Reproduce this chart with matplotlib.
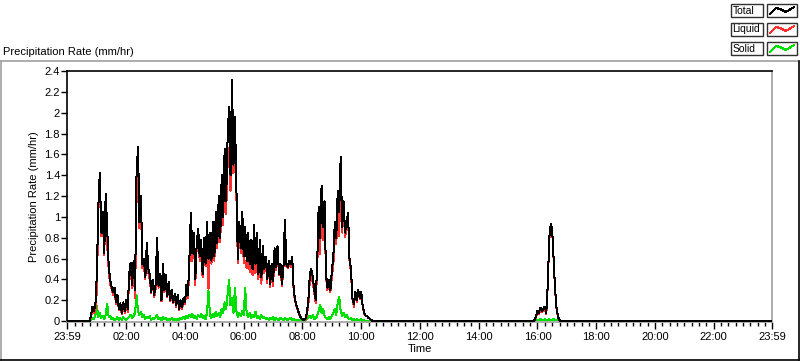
# -*- coding: utf-8 -*-

import numpy as np
import matplotlib

matplotlib.use("Agg")
from matplotlib import pyplot as plt
from matplotlib.lines import Line2D
from matplotlib.patches import Rectangle

# morning rain, 3-minute samples starting at 00:45 (mm/hr)
am_start = 0.75
total_am = [
    0.00, 0.05, 0.14, 0.10, 0.16, 0.45, 1.10, 1.42, 0.85, 1.05,
    0.65, 1.22, 0.90, 0.55, 0.40, 0.33, 0.28, 0.32, 0.18, 0.25,
    0.12, 0.17, 0.08, 0.18, 0.10, 0.20, 0.12, 0.45, 0.56, 0.35,
    0.58, 0.30, 1.40, 1.67, 0.95, 1.20, 0.55, 0.60, 0.42, 0.75,
    0.50, 0.45, 0.28, 0.40, 0.25, 0.35, 0.80, 0.34, 0.45, 0.20,
    0.55, 0.30, 0.44, 0.24, 0.38, 0.20, 0.30, 0.18, 0.26, 0.15,
    0.25, 0.12, 0.20, 0.14, 0.22, 0.18, 0.35, 0.25, 0.60, 1.04,
    0.65, 0.85, 0.40, 0.75, 0.88, 0.62, 0.78, 0.45, 0.80, 0.55,
    0.95, 0.60, 0.85, 0.58, 0.95, 0.62, 1.05, 0.75, 1.20, 0.80,
    1.40, 1.00, 1.65, 1.15, 1.75, 2.06, 1.40, 2.31, 1.50, 1.96,
    1.30, 0.60, 0.95, 0.70, 1.05, 0.62, 0.90, 0.58, 0.85, 0.55,
    0.78, 0.50, 0.92, 0.55, 0.85, 0.45, 0.78, 0.42, 0.72, 0.50,
    0.62, 0.40, 0.58, 0.36, 0.55, 0.38, 0.70, 0.52, 0.72, 0.45,
    0.55, 0.36, 0.50, 0.97, 0.55, 0.52, 0.58, 0.55, 0.62, 0.30,
    0.20, 0.15, 0.10, 0.06, 0.03, 0.02, 0.01, 0.02, 0.08, 0.20,
    0.45, 0.50, 0.42, 0.30, 0.20, 0.55, 1.10, 0.80, 1.30, 0.90,
    1.15, 0.45, 0.32, 0.40, 0.30, 0.48, 0.62, 0.95, 0.80, 1.25,
    1.05, 1.58, 0.90, 1.15, 0.85, 0.95, 1.04, 0.60, 0.50, 0.22,
    0.16, 0.28, 0.20, 0.30, 0.22, 0.28, 0.14, 0.08, 0.05, 0.05,
    0.03, 0.02, 0.01, 0.00, 0.00, 0.00, 0.00, 0.00, 0.00, 0.00, 0.00,
]
solid_am = [
    0.00, 0.01, 0.03, 0.02, 0.06, 0.15, 0.04, 0.08, 0.03, 0.05,
    0.02, 0.06, 0.17, 0.04, 0.05, 0.02, 0.03, 0.01, 0.02, 0.04,
    0.01, 0.03, 0.01, 0.04, 0.02, 0.01, 0.03, 0.04, 0.06, 0.03,
    0.05, 0.08, 0.25, 0.10, 0.06, 0.09, 0.04, 0.06, 0.02, 0.04,
    0.03, 0.05, 0.01, 0.03, 0.02, 0.04, 0.06, 0.02, 0.03, 0.01,
    0.04, 0.02, 0.03, 0.01, 0.02, 0.01, 0.03, 0.01, 0.02, 0.01,
    0.02, 0.01, 0.03, 0.02, 0.04, 0.02, 0.05, 0.03, 0.06, 0.04,
    0.07, 0.03, 0.05, 0.02, 0.06, 0.04, 0.07, 0.03, 0.05, 0.02,
    0.08, 0.29, 0.06, 0.03, 0.07, 0.04, 0.09, 0.05, 0.08, 0.04,
    0.12, 0.08, 0.18, 0.12, 0.25, 0.40, 0.15, 0.22, 0.08, 0.32,
    0.10, 0.04, 0.08, 0.05, 0.10, 0.06, 0.32, 0.07, 0.04, 0.08,
    0.03, 0.06, 0.04, 0.09, 0.03, 0.05, 0.02, 0.06, 0.03, 0.04,
    0.02, 0.03, 0.01, 0.03, 0.02, 0.04, 0.01, 0.03, 0.02, 0.01,
    0.03, 0.02, 0.01, 0.03, 0.02, 0.01, 0.02, 0.03, 0.01, 0.02,
    0.01, 0.01, 0.00, 0.01, 0.00, 0.00, 0.00, 0.01, 0.02, 0.04,
    0.05, 0.03, 0.06, 0.02, 0.03, 0.05, 0.10, 0.16, 0.08, 0.12,
    0.05, 0.03, 0.02, 0.04, 0.02, 0.05, 0.08, 0.12, 0.06, 0.18,
    0.23, 0.10, 0.05, 0.08, 0.04, 0.06, 0.03, 0.02, 0.03, 0.01,
    0.02, 0.01, 0.02, 0.01, 0.01, 0.02, 0.00, 0.01, 0.00, 0.00,
    0.00, 0.00, 0.00, 0.00, 0.00, 0.00, 0.00, 0.00, 0.00, 0.00, 0.00,
]

# afternoon shower, 3-minute samples starting at 15:45
pm_start = 15.75
total_pm = [
    0.00, 0.00, 0.00, 0.01, 0.05, 0.10, 0.08, 0.13, 0.10, 0.12, 0.14,
    0.08, 0.35, 0.80, 0.93, 0.88, 0.60, 0.30, 0.12, 0.04, 0.01, 0.00,
]
solid_pm = [
    0.00, 0.00, 0.00, 0.00, 0.01, 0.01, 0.01, 0.02, 0.01, 0.01, 0.02,
    0.01, 0.01, 0.02, 0.01, 0.01, 0.02, 0.01, 0.01, 0.01, 0.00, 0.00,
]
step = 0.05  # 3 minutes in hours

day_start = -1.0 / 60  # 23:59 the day before
day_end = 23 + 59.0 / 60
tick_hours = [day_start, 2, 4, 6, 8, 10, 12, 14, 16, 18, 20, 22, day_end]
tick_labels = ["23:59", "02:00", "04:00", "06:00", "08:00", "10:00", "12:00",
               "14:00", "16:00", "18:00", "20:00", "22:00", "23:59"]
legend_names = ["Total", "Liquid", "Solid"]
legend_colors = ["#000000", "#ff3030", "#00e000"]

plt.rcParams["font.family"] = ["Liberation Sans", "DejaVu Sans"]
plt.rcParams["font.size"] = 8

t_am = am_start + step * np.arange(len(total_am))
t_pm = pm_start + step * np.arange(len(total_pm))
t = np.concatenate([[day_start], t_am, t_pm, [day_end]])
total = np.concatenate([[0.0], total_am, total_pm, [0.0]])
solid = np.concatenate([[0.0], solid_am, solid_pm, [0.0]])
liquid = total - solid

W, H = 800, 361
fig = plt.figure(figsize=(W / 100, H / 100), dpi=100)


def fx(x):
    return x / W


def fy(y):
    return 1 - y / H


LW = 0.72  # one pixel at 100 dpi

ax = fig.add_axes([fx(67), fy(322), fx(772) - fx(67), fy(71) - fy(322)])
ax.plot(t, solid, color=legend_colors[2], lw=LW, zorder=1, antialiased=False)
ax.plot(t, liquid, color=legend_colors[1], lw=LW, zorder=2, antialiased=False)
ax.plot(t, total, color=legend_colors[0], lw=LW, zorder=3, antialiased=False)

ax.set_xlim(day_start, day_end)
ax.set_ylim(-0.008, 2.4)
ax.set_yticks(np.arange(0, 2.41, 0.2))
ax.set_yticklabels(["0", "0.2", "0.4", "0.6", "0.8", "1", "1.2", "1.4",
                    "1.6", "1.8", "2", "2.2", "2.4"])
ax.set_xticks(tick_hours)
ax.set_xticklabels(tick_labels)
ax.set_xticks([0.25 * k for k in range(1, 96) if k % 8 != 0], minor=True)
ax.tick_params(axis="x", which="major", length=5, width=1, pad=2, labelsize=8)
ax.tick_params(axis="x", which="minor", length=3, width=1)
ax.tick_params(axis="y", which="major", length=4, width=1, pad=1, labelsize=8)

for side in ["left", "top"]:
    ax.spines[side].set_color("black")
for side in ["right", "bottom"]:
    ax.spines[side].set_color("#a0a0a0")
for sp in ax.spines.values():
    sp.set_linewidth(1.2)

ax.set_ylabel("Precipitation Rate (mm/hr)", fontsize=8, labelpad=4)
ax.set_xlabel("Time", fontsize=8, labelpad=2)

# panel title
fig.text(fx(3), fy(55), "Precipitation Rate (mm/hr)", fontsize=8,
         ha="left", va="baseline")

# outer frame
fig.add_artist(Line2D([fx(0), fx(798)], [fy(61), fy(61)], color="#a0a0a0", lw=1.2))
fig.add_artist(Line2D([fx(0.5), fx(0.5)], [fy(61), fy(360)], color="#a0a0a0", lw=1.2))
fig.add_artist(Line2D([fx(798.5), fx(798.5)], [fy(61), fy(360)], color="black", lw=1.2))
fig.add_artist(Line2D([fx(0), fx(799)], [fy(359.5), fy(359.5)], color="black", lw=1.2))

# legend boxes
for k, (name, col) in enumerate(zip(legend_names, legend_colors)):
    y0 = 4 + 19 * k
    fig.add_artist(Rectangle((fx(731), fy(y0 + 13)), fx(763) - fx(731),
                             fy(y0) - fy(y0 + 13), fill=False,
                             edgecolor="#303030", lw=1))
    fig.add_artist(Rectangle((fx(767), fy(y0 + 13)), fx(797) - fx(767),
                             fy(y0) - fy(y0 + 13), fill=False,
                             edgecolor="#303030", lw=1))
    fig.text(fx(732.5), fy(y0 + 6.5), name, fontsize=7.5, ha="left", va="center")
    sx = [770, 776, 780, 786, 794]
    sy = [y0 + 10, y0 + 4, y0 + 5, y0 + 8, y0 + 3]
    fig.add_artist(Line2D([fx(v) for v in sx], [fy(v) for v in sy],
                          color=col, lw=LW, antialiased=False))

fig.savefig("out.png", dpi=100)
